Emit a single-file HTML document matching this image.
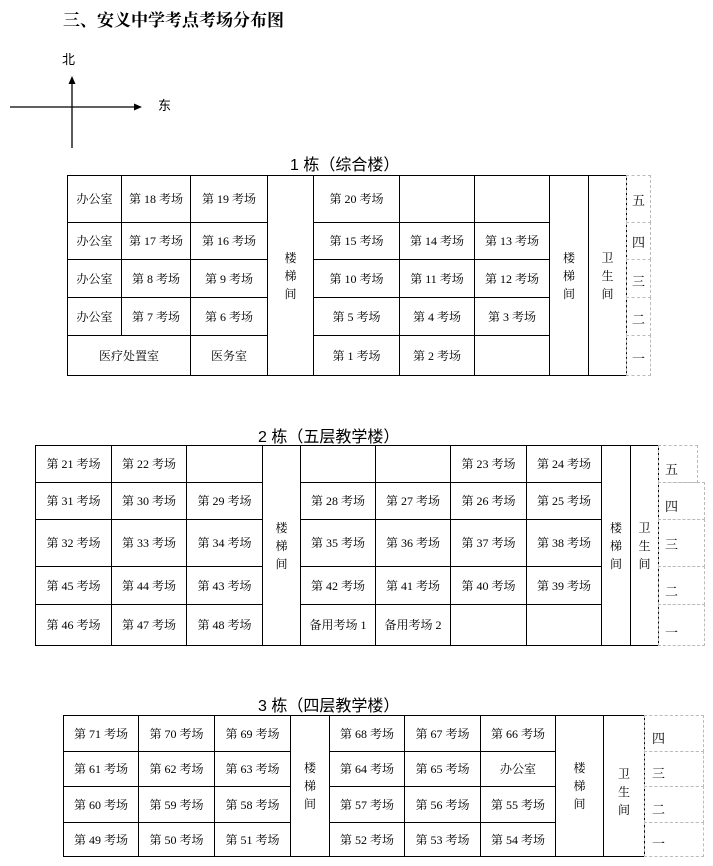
<!DOCTYPE html>
<html><head><meta charset="utf-8"><style>
body{margin:0;width:713px;height:866px;background:#fff;position:relative;overflow:hidden;font-family:"Liberation Serif","Noto Serif CJK SC",serif;}
.c{position:absolute;border:1px solid #000;box-sizing:border-box;display:flex;align-items:center;justify-content:center;font-size:12px;color:#000;text-align:center;line-height:1.5;}
.l{position:absolute;border:1px dashed #bbb;box-sizing:border-box;display:flex;align-items:flex-end;padding:0 0 4px 6px;font-size:13px;}
.h{position:absolute;font-family:"Liberation Sans","Noto Sans CJK SC",sans-serif;font-size:16px;}
</style></head><body>
<div style="position:absolute;left:63px;top:6px;font-size:17px;font-weight:bold;font-family:'Liberation Serif','Noto Serif CJK SC',serif;">三、安义中学考点考场分布图</div>
<div style="position:absolute;left:62px;top:49px;font-size:13px;font-family:'Liberation Sans','Noto Sans CJK SC',sans-serif;">北</div>
<div style="position:absolute;left:158px;top:95px;font-size:13px;font-family:'Liberation Sans','Noto Sans CJK SC',sans-serif;">东</div>
<svg style="position:absolute;left:0;top:0" width="200" height="160">
<line x1="72" y1="82" x2="72" y2="148" stroke="#000" stroke-width="1.3"/>
<polygon points="72,76 68.5,84 75.5,84" fill="#000"/>
<line x1="10" y1="107" x2="136" y2="107" stroke="#000" stroke-width="1.3"/>
<polygon points="142,107 134,103.5 134,110.5" fill="#000"/>
</svg>
<div class="h" style="left:290px;top:151px;">1 栋（综合楼）</div>
<div class="h" style="left:258px;top:423px;">2 栋（五层教学楼）</div>
<div class="h" style="left:258px;top:692px;">3 栋（四层教学楼）</div>

<!-- Table 1 -->
<div class="c" style="left:67px;top:175px;width:55px;height:48px;">办公室</div>
<div class="c" style="left:121px;top:175px;width:70px;height:48px;">第 18 考场</div>
<div class="c" style="left:190px;top:175px;width:78px;height:48px;">第 19 考场</div>
<div class="c" style="left:267px;top:175px;width:47px;height:201px;">楼<br>梯<br>间</div>
<div class="c" style="left:313px;top:175px;width:87px;height:48px;">第 20 考场</div>
<div class="c" style="left:399px;top:175px;width:76px;height:48px;"></div>
<div class="c" style="left:474px;top:175px;width:76px;height:48px;"></div>
<div class="c" style="left:549px;top:175px;width:40px;height:201px;">楼<br>梯<br>间</div>
<div class="c" style="left:588px;top:175px;width:39px;height:201px;">卫<br>生<br>间</div>

<div class="c" style="left:67px;top:222px;width:55px;height:38px;">办公室</div>
<div class="c" style="left:121px;top:222px;width:70px;height:38px;">第 17 考场</div>
<div class="c" style="left:190px;top:222px;width:78px;height:38px;">第 16 考场</div>
<div class="c" style="left:313px;top:222px;width:87px;height:38px;">第 15 考场</div>
<div class="c" style="left:399px;top:222px;width:76px;height:38px;">第 14 考场</div>
<div class="c" style="left:474px;top:222px;width:76px;height:38px;">第 13 考场</div>

<div class="c" style="left:67px;top:259px;width:55px;height:39px;">办公室</div>
<div class="c" style="left:121px;top:259px;width:70px;height:39px;">第 8 考场</div>
<div class="c" style="left:190px;top:259px;width:78px;height:39px;">第 9 考场</div>
<div class="c" style="left:313px;top:259px;width:87px;height:39px;">第 10 考场</div>
<div class="c" style="left:399px;top:259px;width:76px;height:39px;">第 11 考场</div>
<div class="c" style="left:474px;top:259px;width:76px;height:39px;">第 12 考场</div>

<div class="c" style="left:67px;top:297px;width:55px;height:39px;">办公室</div>
<div class="c" style="left:121px;top:297px;width:70px;height:39px;">第 7 考场</div>
<div class="c" style="left:190px;top:297px;width:78px;height:39px;">第 6 考场</div>
<div class="c" style="left:313px;top:297px;width:87px;height:39px;">第 5 考场</div>
<div class="c" style="left:399px;top:297px;width:76px;height:39px;">第 4 考场</div>
<div class="c" style="left:474px;top:297px;width:76px;height:39px;">第 3 考场</div>

<div class="c" style="left:67px;top:335px;width:124px;height:41px;">医疗处置室</div>
<div class="c" style="left:190px;top:335px;width:78px;height:41px;">医务室</div>
<div class="c" style="left:313px;top:335px;width:87px;height:41px;">第 1 考场</div>
<div class="c" style="left:399px;top:335px;width:76px;height:41px;">第 2 考场</div>
<div class="c" style="left:474px;top:335px;width:76px;height:41px;"></div>

<div class="l" style="left:626px;top:175px;width:25px;height:48px;align-items:center;padding:0 0 0 5px;">五</div>
<div class="l" style="left:626px;top:222px;width:25px;height:38px;align-items:center;padding:0 0 0 5px;">四</div>
<div class="l" style="left:626px;top:259px;width:25px;height:39px;align-items:center;padding:4px 0 0 5px;">三</div>
<div class="l" style="left:626px;top:297px;width:25px;height:39px;align-items:center;padding:4px 0 0 5px;">二</div>
<div class="l" style="left:626px;top:335px;width:25px;height:41px;align-items:center;padding:4px 0 0 5px;">一</div>

<!-- Table 2 -->
<div class="c" style="left:35px;top:445px;width:77px;height:38px;">第 21 考场</div>
<div class="c" style="left:111px;top:445px;width:76px;height:38px;">第 22 考场</div>
<div class="c" style="left:186px;top:445px;width:77px;height:38px;"></div>
<div class="c" style="left:262px;top:445px;width:39px;height:201px;">楼<br>梯<br>间</div>
<div class="c" style="left:300px;top:445px;width:76px;height:38px;"></div>
<div class="c" style="left:375px;top:445px;width:76px;height:38px;"></div>
<div class="c" style="left:450px;top:445px;width:77px;height:38px;">第 23 考场</div>
<div class="c" style="left:526px;top:445px;width:76px;height:38px;">第 24 考场</div>
<div class="c" style="left:601px;top:445px;width:30px;height:201px;">楼<br>梯<br>间</div>
<div class="c" style="left:630px;top:445px;width:29px;height:201px;">卫<br>生<br>间</div>

<div class="c" style="left:35px;top:482px;width:77px;height:38px;">第 31 考场</div>
<div class="c" style="left:111px;top:482px;width:76px;height:38px;">第 30 考场</div>
<div class="c" style="left:186px;top:482px;width:77px;height:38px;">第 29 考场</div>
<div class="c" style="left:300px;top:482px;width:76px;height:38px;">第 28 考场</div>
<div class="c" style="left:375px;top:482px;width:76px;height:38px;">第 27 考场</div>
<div class="c" style="left:450px;top:482px;width:77px;height:38px;">第 26 考场</div>
<div class="c" style="left:526px;top:482px;width:76px;height:38px;">第 25 考场</div>

<div class="c" style="left:35px;top:519px;width:77px;height:48px;">第 32 考场</div>
<div class="c" style="left:111px;top:519px;width:76px;height:48px;">第 33 考场</div>
<div class="c" style="left:186px;top:519px;width:77px;height:48px;">第 34 考场</div>
<div class="c" style="left:300px;top:519px;width:76px;height:48px;">第 35 考场</div>
<div class="c" style="left:375px;top:519px;width:76px;height:48px;">第 36 考场</div>
<div class="c" style="left:450px;top:519px;width:77px;height:48px;">第 37 考场</div>
<div class="c" style="left:526px;top:519px;width:76px;height:48px;">第 38 考场</div>

<div class="c" style="left:35px;top:566px;width:77px;height:39px;">第 45 考场</div>
<div class="c" style="left:111px;top:566px;width:76px;height:39px;">第 44 考场</div>
<div class="c" style="left:186px;top:566px;width:77px;height:39px;">第 43 考场</div>
<div class="c" style="left:300px;top:566px;width:76px;height:39px;">第 42 考场</div>
<div class="c" style="left:375px;top:566px;width:76px;height:39px;">第 41 考场</div>
<div class="c" style="left:450px;top:566px;width:77px;height:39px;">第 40 考场</div>
<div class="c" style="left:526px;top:566px;width:76px;height:39px;">第 39 考场</div>

<div class="c" style="left:35px;top:604px;width:77px;height:42px;">第 46 考场</div>
<div class="c" style="left:111px;top:604px;width:76px;height:42px;">第 47 考场</div>
<div class="c" style="left:186px;top:604px;width:77px;height:42px;">第 48 考场</div>
<div class="c" style="left:300px;top:604px;width:76px;height:42px;">备用考场 1</div>
<div class="c" style="left:375px;top:604px;width:76px;height:42px;">备用考场 2</div>
<div class="c" style="left:450px;top:604px;width:77px;height:42px;"></div>
<div class="c" style="left:526px;top:604px;width:76px;height:42px;"></div>

<div class="l" style="left:658px;top:445px;width:40px;height:38px;">五</div>
<div class="l" style="left:658px;top:482px;width:47px;height:38px;">四</div>
<div class="l" style="left:658px;top:519px;width:47px;height:48px;align-items:center;padding:0 0 0 6px;">三</div>
<div class="l" style="left:658px;top:566px;width:47px;height:39px;">二</div>
<div class="l" style="left:658px;top:604px;width:47px;height:42px;">一</div>

<!-- Table 3 -->
<div class="c" style="left:63px;top:715px;width:76px;height:37px;">第 71 考场</div>
<div class="c" style="left:138px;top:715px;width:77px;height:37px;">第 70 考场</div>
<div class="c" style="left:214px;top:715px;width:77px;height:37px;">第 69 考场</div>
<div class="c" style="left:290px;top:715px;width:40px;height:142px;">楼<br>梯<br>间</div>
<div class="c" style="left:329px;top:715px;width:76px;height:37px;">第 68 考场</div>
<div class="c" style="left:404px;top:715px;width:77px;height:37px;">第 67 考场</div>
<div class="c" style="left:480px;top:715px;width:76px;height:37px;">第 66 考场</div>
<div class="c" style="left:555px;top:715px;width:49px;height:142px;">楼<br>梯<br>间</div>
<div class="c" style="left:603px;top:715px;width:42px;height:142px;padding-top:12px;">卫<br>生<br>间</div>

<div class="c" style="left:63px;top:751px;width:76px;height:36px;">第 61 考场</div>
<div class="c" style="left:138px;top:751px;width:77px;height:36px;">第 62 考场</div>
<div class="c" style="left:214px;top:751px;width:77px;height:36px;">第 63 考场</div>
<div class="c" style="left:329px;top:751px;width:76px;height:36px;">第 64 考场</div>
<div class="c" style="left:404px;top:751px;width:77px;height:36px;">第 65 考场</div>
<div class="c" style="left:480px;top:751px;width:76px;height:36px;">办公室</div>

<div class="c" style="left:63px;top:786px;width:76px;height:37px;">第 60 考场</div>
<div class="c" style="left:138px;top:786px;width:77px;height:37px;">第 59 考场</div>
<div class="c" style="left:214px;top:786px;width:77px;height:37px;">第 58 考场</div>
<div class="c" style="left:329px;top:786px;width:76px;height:37px;">第 57 考场</div>
<div class="c" style="left:404px;top:786px;width:77px;height:37px;">第 56 考场</div>
<div class="c" style="left:480px;top:786px;width:76px;height:37px;">第 55 考场</div>

<div class="c" style="left:63px;top:822px;width:76px;height:35px;">第 49 考场</div>
<div class="c" style="left:138px;top:822px;width:77px;height:35px;">第 50 考场</div>
<div class="c" style="left:214px;top:822px;width:77px;height:35px;">第 51 考场</div>
<div class="c" style="left:329px;top:822px;width:76px;height:35px;">第 52 考场</div>
<div class="c" style="left:404px;top:822px;width:77px;height:35px;">第 53 考场</div>
<div class="c" style="left:480px;top:822px;width:76px;height:35px;">第 54 考场</div>

<div class="l" style="left:644px;top:715px;width:60px;height:37px;padding-left:7px;">四</div>
<div class="l" style="left:644px;top:751px;width:60px;height:36px;padding-left:7px;">三</div>
<div class="l" style="left:644px;top:786px;width:60px;height:37px;padding-left:7px;">二</div>
<div class="l" style="left:644px;top:822px;width:60px;height:35px;padding-left:7px;">一</div>
</body></html>
